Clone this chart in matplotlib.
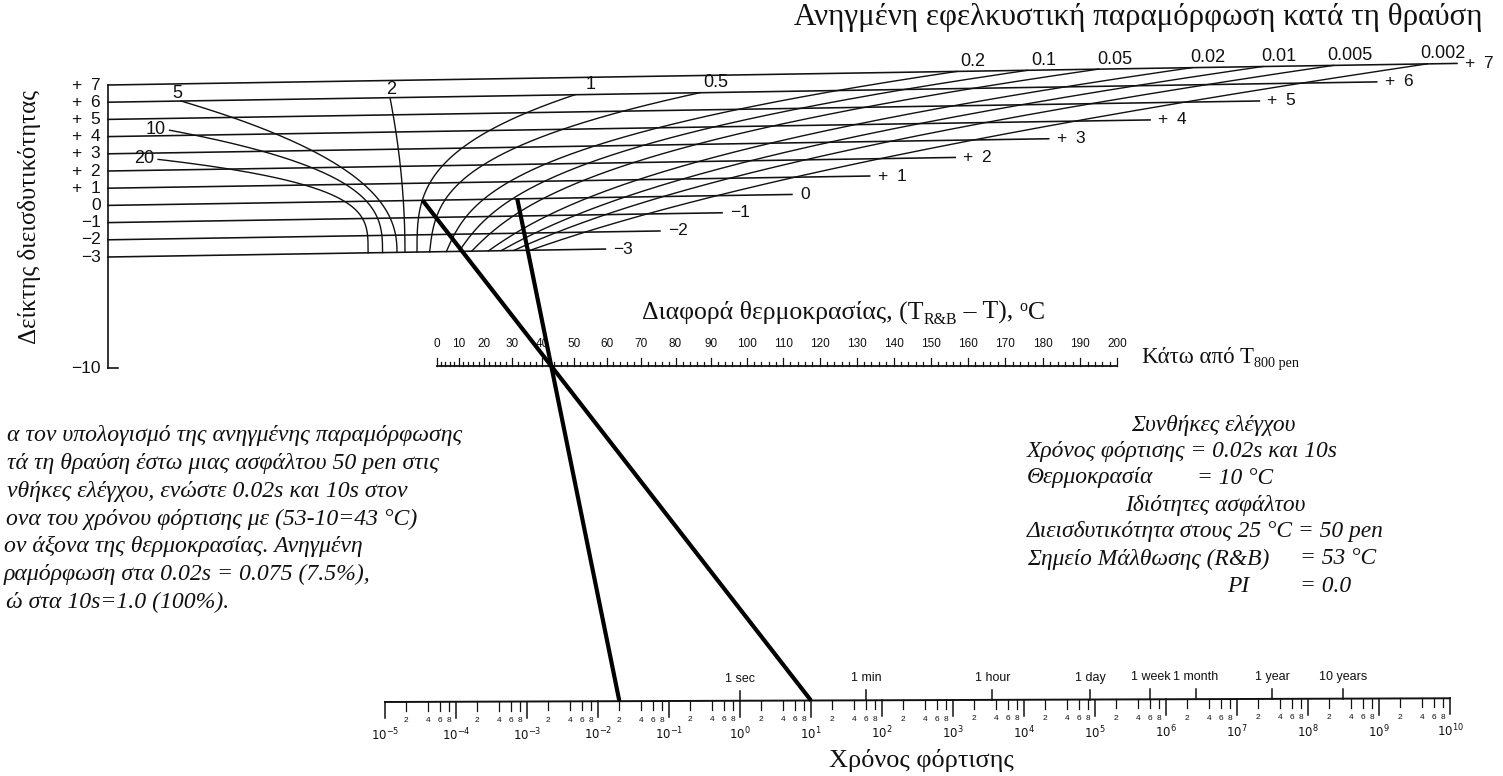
import numpy as np
import matplotlib
matplotlib.use("Agg")
import matplotlib.pyplot as plt

# ------------------------------------------------------------------ values
pi_values = [7, 6, 5, 4, 3, 2, 1, 0, -1, -2, -3]
pi_labels = ['+ 7', '+ 6', '+ 5', '+ 4', '+ 3', '+ 2', '+ 1', '0', '−1', '−2', '−3']
pi_axis_bottom = -10

strain_high = [5, 10, 20]
strain_high_labels = ['5', '10', '20']
strain_mid = 2
strain_low = [1, 0.5, 0.2, 0.1, 0.05, 0.02, 0.01, 0.005, 0.002]
strain_low_labels = ['1', '0.5', '0.2', '0.1', '0.05', '0.02', '0.01', '0.005', '0.002']

temp_diff_ticks = list(range(0, 201, 10))

time_decades = list(range(-5, 11))
time_minor = [2, 4, 6, 8]
time_names = ['1 sec', '1 min', '1 hour', '1 day', '1 week', '1 month', '1 year', '10 years']
time_name_seconds = [1, 60, 3600, 86400, 604800, 2.63e6, 3.156e7, 3.156e8]

# worked example
loading_times = [0.02, 10]
softening_point = 53
test_temperature = 10
example_pi = 0.0

# ------------------------------------------------------------------ styles
SERIF = 'Liberation Serif'
SANS = 'Liberation Sans'
INK = '#111111'

fig = plt.figure(figsize=(15.03, 7.76), dpi=100)
ax = fig.add_axes([0, 0, 1, 1])
ax.set_xlim(0, 1503)
ax.set_ylim(776, 0)
ax.axis('off')
renderer = fig.canvas.get_renderer()

# ------------------------------------------------------------------ scales
PI_X0, PI_Y7, PI_STEP, PI_TILT = 108, 85, 17.2, -0.016


def y_pi(p, x):
    """Vertical position of penetration index p at horizontal position x."""
    return PI_Y7 + (7 - p) * PI_STEP + PI_TILT * (x - PI_X0)


def x_temp(T):
    return 437 + 3.76 * T - 72 * (1 - np.exp(-T / 40.0))


TEMP_Y = 366


def x_time(t):
    return 740 + 71 * np.log10(t)


def y_time(x):
    return 702 - 0.0035 * (x - 385)


# strain curves -----------------------------------------------------------
def low_curve(s, u=None):
    L = -np.log10(s)
    xb = 417 + 42 * L
    if s >= 0.5:
        u_top, x_top = 9.0, 575 + 415 * L
    else:
        u_top, x_top = 10.0, 957 + 235 * (L - 0.699)
    w, q = 0.21 * L, 3.1 - 0.4 * L
    if u is None:
        u = np.linspace(0, u_top, 300)
    r = np.asarray(u) / u_top
    x = xb + (x_top - xb) * (w * r + (1 - w) * r ** q)
    return x, y_pi(np.asarray(u) - 3, x), u_top


def high_curve(s):
    k = np.log10(s / 5.0)
    xb = 397 - 48 * k
    u_s = 9 - 5.6 * k
    x_s = 181 - 38 * k
    e = 2.3 + 2.0 * k
    u = np.linspace(0, u_s, 300)
    x = xb - (xb - x_s) * (u / u_s) ** e
    return x, y_pi(u - 3, x)


def mid_curve(s):
    xb = 405
    u = np.linspace(0, 9, 200)
    x = xb - 15 * (u / 9) ** 2
    return x, y_pi(u - 3, x)


def pi_text(lab):
    return lab.replace(' ', '\u2002')


# ------------------------------------------------------------------ PI axis and lines
y_m10 = y_pi(-3, PI_X0) + (-3 - pi_axis_bottom) * 15.9
ax.plot([PI_X0, PI_X0], [y_pi(7, PI_X0), y_m10], color=INK, lw=1.2)
ax.plot([PI_X0, PI_X0 + 10], [y_m10, y_m10], color=INK, lw=1.2)
ax.text(101, y_m10, '−10', ha='right', va='center', fontsize=12.5, family=SANS, color=INK)

for p, lab in zip(pi_values, pi_labels):
    xc = float(low_curve(0.002, [p + 3])[0][0])
    x_end = xc + (30 if p == 7 else 75)
    ax.plot([PI_X0, x_end], [y_pi(p, PI_X0), y_pi(p, x_end)], color=INK, lw=1.15)
    ax.text(101, y_pi(p, PI_X0), pi_text(lab), ha='right', va='center', fontsize=12.5,
            family=SANS, color=INK)
    ax.text(x_end + 8, y_pi(p, x_end), pi_text(lab), ha='left', va='center', fontsize=12.5,
            family=SANS, color=INK)

for s, lab in zip(strain_low, strain_low_labels):
    x, y, u_top = low_curve(s)
    ax.plot(x, y, color=INK, lw=1.0)
    ax.text(x[-1] + 16, y[-1] - 10, lab, ha='center', va='center', fontsize=13, family=SANS, color=INK)

for s, lab in zip(strain_high, strain_high_labels):
    x, y = high_curve(s)
    ax.plot(x, y, color=INK, lw=1.0)
    if s == 5:
        ax.text(x[-1] + 1, y[-1] - 8, lab, ha='right', va='center', fontsize=13, family=SANS, color=INK)
    else:
        ax.text(x[-1] - 4, y[-1] - 1, lab, ha='right', va='center', fontsize=13, family=SANS, color=INK)

x, y = mid_curve(strain_mid)
ax.plot(x, y, color=INK, lw=1.0)
ax.text(x[-1] + 1, y[-1] - 8, str(strain_mid), ha='center', va='center', fontsize=13, family=SANS, color=INK)

# ------------------------------------------------------------------ temperature-difference scale
ax.plot([x_temp(0), x_temp(200)], [TEMP_Y, TEMP_Y], color=INK, lw=1.3)
for T in range(0, 201, 2):
    h = 8 if T % 10 == 0 else 4
    ax.plot([x_temp(T)] * 2, [TEMP_Y, TEMP_Y - h], color=INK, lw=0.9)
for T in temp_diff_ticks:
    ax.text(x_temp(T), 344, str(T), ha='center', va='center', fontsize=8.5, family=SANS, color=INK)

# ------------------------------------------------------------------ loading-time scale
xa, xb_ = x_time(10.0 ** time_decades[0]), x_time(10.0 ** time_decades[-1])
ax.plot([xa, xb_], [y_time(xa), y_time(xb_)], color=INK, lw=1.4)
for d in time_decades:
    xt = x_time(10.0 ** d)
    yt = y_time(xt)
    ax.plot([xt, xt], [yt, yt + 16], color=INK, lw=1.1)
    ax.text(xt, yt + 33, r'$10^{%d}$' % d, ha='center', va='center', fontsize=8.5,
            math_fontfamily='dejavusans', color=INK)
    if d < time_decades[-1]:
        for m in time_minor:
            xm = x_time(m * 10.0 ** d)
            ym = y_time(xm)
            ax.plot([xm, xm], [ym, ym + 9], color=INK, lw=0.9)
            ax.text(xm, ym + 19, str(m), ha='center', va='center', fontsize=6, family=SANS, color=INK)
for name, sec in zip(time_names, time_name_seconds):
    xn = x_time(sec)
    yn = y_time(xn)
    ax.plot([xn, xn], [yn, yn - 10], color=INK, lw=1.1)
    ax.text(xn, yn - 22, name, ha='center', va='center', fontsize=9, family=SANS, color=INK)

# ------------------------------------------------------------------ worked example lines
temp_diff = softening_point - test_temperature
xT = x_temp(temp_diff)
a0 = y_pi(example_pi, 0)
for t in loading_times:
    xt = x_time(t)
    yt = y_time(xt)
    dx, dy = xt - xT, yt - TEMP_Y
    lam = (a0 + PI_TILT * xT - TEMP_Y) / (dy - PI_TILT * dx)
    xp, yp = xT + lam * dx, TEMP_Y + lam * dy
    ax.plot([xp, xt], [yp, yt], color='black', lw=3.0, solid_capstyle='butt', zorder=5)


# ------------------------------------------------------------------ titles and notes
def width_of(t):
    return t.get_window_extent(renderer).width


def fit(t, target, vertical=False):
    bb = t.get_window_extent(renderer)
    cur = bb.height if vertical else bb.width
    t.set_fontsize(t.get_fontsize() * target / cur)
    return t


def run_text(x, y, pieces, size, **kw):
    """Lay out (text, scale, shift) pieces left to right on one baseline."""
    for s, scale, shift in pieces:
        t = ax.text(x, y + shift * size, s, fontsize=size * scale, ha='left',
                    va='baseline', **kw)
        x += width_of(t)
    return x


fit(ax.text(1138, 18, 'Ανηγμένη εφελκυστική παραμόρφωση κατά τη θραύση', ha='center', va='center',
            fontsize=16, family=SERIF, color=INK), 690)
fit(ax.text(30, 217, 'Δείκτης διεισδυτικότητας', rotation=90, ha='center', va='center',
            fontsize=16, family=SERIF, color=INK), 255, vertical=True)

head = dict(family=SERIF, color=INK)
run_text(642, 319, [('Διαφορά θερμοκρασίας, (T', 1.0, 0), ('R&B', 0.62, 0.25),
                    (' – T), ', 1.0, 0), ('o', 0.62, -0.45), ('C', 1.0, 0)], 18.5, **head)
run_text(1142, 363, [('Κάτω από T', 1.0, 0), ('800 pen', 0.62, 0.25)], 16.5, **head)
fit(ax.text(829, 760, 'Χρόνος φόρτισης', ha='left', va='center', fontsize=16,
            family=SERIF, color=INK), 185)

# conditions block
ref = ax.text(1027, 451, 'Χρόνος φόρτισης = 0.02s και 10s', ha='left', va='center',
              fontsize=15, family=SERIF, style='italic', color=INK)
fit(ref, 313)
note = dict(fontsize=ref.get_fontsize(), family=SERIF, style='italic', color=INK, va='center')
ax.text(1213, 425, 'Συνθήκες ελέγχου', ha='center', **note)
ax.text(1027, 478, 'Θερμοκρασία', ha='left', **note)
ax.text(1197, 478, '= %d °C' % test_temperature, ha='left', **note)
ax.text(1215, 505, 'Ιδιότητες ασφάλτου', ha='center', **note)
ax.text(1027, 532, 'Διεισδυτικότητα στους 25 °C = 50 pen', ha='left', **note)
ax.text(1027, 559, 'Σημείο Μάλθωσης (R&B)', ha='left', **note)
ax.text(1300, 559, '= %d °C' % softening_point, ha='left', **note)
ax.text(1227, 586, 'PI', ha='left', **note)
ax.text(1300, 586, '= %.1f' % example_pi, ha='left', **note)

# explanatory paragraph (its left margin runs off the sheet)
para = ['α τον υπολογισμό της ανηγμένης παραμόρφωσης',
        'τά τη θραύση έστω μιας ασφάλτου 50 pen στις',
        'νθήκες ελέγχου, ενώστε 0.02s και 10s στον',
        'ονα του χρόνου φόρτισης με (53-10=43 °C)',
        'ον άξονα της θερμοκρασίας. Ανηγμένη',
        'ραμόρφωση στα 0.02s = 0.075 (7.5%),',
        'ώ στα 10s=1.0 (100%).']
para_x = [7, 7, 7, 6, 4, 4, 6]
first = ax.text(para_x[0], 436, para[0], ha='left', **dict(note, fontsize=15))
fit(first, 458)
pnote = dict(note, fontsize=first.get_fontsize())
for i, line in enumerate(para[1:], start=1):
    ax.text(para_x[i], 436 + 27.7 * i, line, ha='left', **pnote)

fig.savefig('out.png', dpi=100, facecolor='white')
